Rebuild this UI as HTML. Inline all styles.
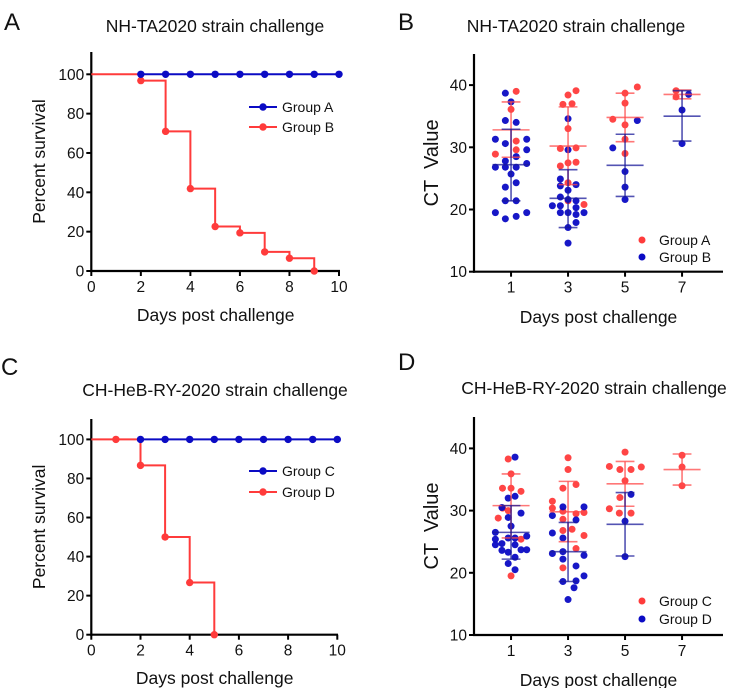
<!DOCTYPE html>
<html><head><meta charset="utf-8"><style>
html,body{margin:0;padding:0;background:#fff}
svg{display:block;font-family:"Liberation Sans",Arial,sans-serif}
text{white-space:pre}
</style></head><body>
<svg id="fig" width="733" height="688" viewBox="0 0 733 688" xmlns="http://www.w3.org/2000/svg"></svg>
<script>
// ---------- DATA ----------
const survDaysA=[2,3,4,5,6,7,8,9,10];
const survGroupA=[100,100,100,100,100,100,100,100,100];
const survDaysB=[2,3,4,5,6,7,8,9];
const survGroupB=[96.8,71,41.9,22.6,19.4,9.7,6.5,0];
const survDaysC=[2,3,4,5,6,7,8,9,10];
const survGroupC=[100,100,100,100,100,100,100,100,100];
const survDaysD=[1,2,3,4,5];
const survGroupD=[100,86.7,50,26.7,0];

const ctDayTicks=[1,3,5,7];
const ctValueTicks=[10,20,30,40];
const survXTicks=[0,2,4,6,8,10];
const survYTicks=[0,20,40,60,80,100];

const bRedDay=[1,1,1,1,1,3,3,3,3,3,3,3,3,3,3,3,3,3,5,5,5,5,5,5,5,7,7];
const bRedVal=[28.9,39.0,36.1,31.0,29.6,38.4,39.1,36.9,37.0,33.0,29.8,29.9,27.5,27.6,27.0,24.3,21.4,20.8,39.7,38.7,37.1,34.5,33.6,31.3,29.0,39.1,38.1];
const bRedJit=[-0.55,0.18,0,0.18,0.18,0,0.28,-0.18,0.14,0,-0.27,0.28,0,0.28,-0.27,0,0,0.56,0.43,0,0,-0.43,0,0,0,-0.21,-0.21];
const bBlueDay=[1,1,1,1,1,1,1,1,1,1,1,1,1,1,1,1,1,1,1,1,1,1,1,3,3,3,3,3,3,3,3,3,3,3,3,3,3,3,3,3,3,3,5,5,5,5,5,7,7,7];
const bBlueVal=[38.7,37.3,34.3,34.0,31.3,30.6,31.3,29.6,28.5,27.8,27.4,26.8,26.8,26.8,25.7,23.6,24.3,21.4,21.4,19.5,19.5,18.5,18.9,34.6,29.6,24.9,23.8,24.0,23.1,22.0,20.6,20.6,21.6,21.4,19.5,19.5,20.3,19.5,19.2,17.1,17.9,14.6,34.3,29.9,26.1,23.6,21.6,38.5,36.0,30.6];
const bBlueJit=[-0.2,0,-0.2,0.18,-0.55,-0.2,0.55,0.55,0.18,-0.2,0.55,-0.55,-0.2,0.18,0,-0.2,0.18,-0.2,0.18,-0.55,0.55,-0.2,0.18,0,0,-0.27,-0.27,0.28,0,-0.27,-0.55,-0.27,0,0.28,-0.27,0,0.28,0.56,0.28,0,0.28,0,0.43,-0.43,0,0,0,0.23,0,0];
const bRedStatDay=[1,3,5,7];
const bRedMean=[32.8,30.2,34.8,38.5];
const bRedLo=[28.4,24.0,30.9,37.8];
const bRedHi=[37.3,36.5,38.7,39.2];
const bBlueStatDay=[1,3,5,7];
const bBlueMean=[27.2,21.8,27.1,35.0];
const bBlueLo=[21.4,17.1,22.1,31.0];
const bBlueHi=[32.9,26.4,32.1,39.1];

const dRedDay=[1,1,1,1,1,1,1,1,1,1,3,3,3,3,3,3,3,3,3,3,3,3,3,3,3,5,5,5,5,5,5,5,5,5,5,7,7,7];
const dRedVal=[38.3,35.9,33.6,33.6,33.1,30.4,30.0,28.8,25.4,19.5,38.5,36.6,34.2,33.6,31.5,30.4,29.9,29.5,29.7,28.6,27.0,26.8,26.0,23.9,20.8,39.4,37.1,37.0,36.6,36.6,34.8,32.1,30.3,29.6,29.6,38.9,37.0,34.0];
const dRedJit=[-0.1,0,-0.3,0,0.35,-0.3,-0.1,-0.45,0.35,0,0,0,0.28,-0.18,-0.55,-0.55,-0.18,0.28,0.56,-0.18,0.14,-0.18,0.56,0.28,-0.18,0,-0.55,0.57,-0.18,0.21,0,-0.18,-0.55,-0.2,0.21,0,0,0];
const dBlueDay=[1,1,1,1,1,1,1,1,1,1,1,1,1,1,1,1,1,1,1,1,1,1,3,3,3,3,3,3,3,3,3,3,3,3,3,3,3,3,5,5,5];
const dBlueVal=[38.6,32.3,32.0,30.5,29.6,28.9,27.5,26.5,25.9,25.6,25.4,25.6,24.5,24.7,24.5,23.7,23.7,23.6,23.3,22.5,21.5,20.5,30.6,30.6,28.5,29.2,26.4,25.6,23.4,23.1,22.8,22.2,21.1,19.5,18.6,18.7,17.6,15.7,32.6,28.3,22.6];
const dBlueJit=[0.14,0.14,-0.1,-0.32,0.35,-0.1,0,-0.55,0.55,-0.1,-0.55,0.14,-0.55,-0.32,0.14,0.35,0.55,-0.32,-0.1,0.14,-0.1,0.14,-0.18,0.56,0.28,-0.55,-0.55,-0.18,-0.18,-0.55,0.56,-0.18,0.28,0.56,-0.18,0.28,0.21,0,0.21,0,0];
const dRedStatDay=[1,3,5,7];
const dRedMean=[30.8,29.8,34.3,36.6];
const dRedLo=[25.6,25.0,30.7,34.1];
const dRedHi=[35.9,34.7,37.9,39.1];
const dBlueStatDay=[1,3,5];
const dBlueMean=[26.5,23.4,27.8];
const dBlueLo=[22.2,18.6,22.7];
const dBlueHi=[30.8,28.1,32.9];

// ---------- DRAWING ----------
const NS='http://www.w3.org/2000/svg';
const svg=document.getElementById('fig');
const BLUE='#0b0bc4', RED='#ff3b3b';
function el(tag,attrs,parent,txt){const e=document.createElementNS(NS,tag);for(const k in attrs)e.setAttribute(k,attrs[k]);if(txt!==undefined)e.textContent=txt;(parent||svg).appendChild(e);return e;}
function grp(name){const g=el('g',{});


return g;}
function text(g,x,y,s,size,anchor,name,rot){const t=el('text',{x:x,y:y,'font-size':size,'text-anchor':anchor||'middle',fill:'#111'},g,s);


if(rot)t.setAttribute('transform','rotate(-90 '+x+' '+y+')');return t;}

function axes(g,x0,x1,yTop,yBot,xs,ys,xt,yt,xlab,ylab,ylabX,xlabY,ylabSize){
  el('line',{x1:x0,y1:yTop,x2:x0,y2:yBot+1,stroke:'#000','stroke-width':2.2},g);
  el('line',{x1:x0-1,y1:yBot,x2:x1,y2:yBot,stroke:'#000','stroke-width':2.2},g);
  xt.forEach(v=>{const x=xs(v);el('line',{x1:x,y1:yBot,x2:x,y2:yBot+5,stroke:'#000','stroke-width':2},g);
    text(g,x,yBot+21,String(v),15.5,'middle','x-tick-label');});
  yt.forEach(v=>{const y=ys(v);el('line',{x1:x0-5,y1:y,x2:x0,y2:y,stroke:'#000','stroke-width':2},g);
    text(g,x0-7,y+5.5,String(v),15.5,'end','y-tick-label');});
  text(g,(x0+x1)/2,xlabY,xlab,17.5,'middle','x-axis-title');
  text(g,ylabX,(yTop+yBot)/2,ylab,ylabSize||17.5,'middle','y-axis-title',true);
}

function survival(g,xs,ys,days,vals,color,startLine){
  let d='M'+xs(0)+' '+ys(100);let prev=100;
  if(!startLine){d='M'+xs(days[0])+' '+ys(vals[0]);prev=vals[0];}
  days.forEach((dd,i)=>{d+=' L'+xs(dd)+' '+ys(prev)+' L'+xs(dd)+' '+ys(vals[i]);prev=vals[i];});
  const p=el('path',{d:d,fill:'none',stroke:color,'stroke-width':2},g);
  
  
  days.forEach((dd,i)=>{const c=el('circle',{cx:xs(dd),cy:ys(vals[i]),r:3.7,fill:color},g);
    
    });
}

function legendLine(g,x,y,color,label){
  el('line',{x1:x-14,y1:y,x2:x+14,y2:y,stroke:color,'stroke-width':2},g);
  const c=el('circle',{cx:x,cy:y,r:3.7,fill:color},g);
  
  
  text(g,x+19,y+5,label,14,'start','legend-entry');
}
function legendDot(g,x,y,color,label){
  const c=el('circle',{cx:x,cy:y,r:3.5,fill:color},g);
  
  
  text(g,x+17,y+5,label,14,'start','legend-entry');
}

function scatter(g,xs,ys,days,vals,jit,color){
  days.forEach((d,i)=>{const c=el('circle',{cx:xs(d+jit[i]),cy:ys(vals[i]),r:3.5,fill:color,'fill-opacity':0.95},g);
    
    });
}
function stats(g,xs,ys,days,mean,lo,hi,color){
  days.forEach((d,i)=>{
    const s={stroke:color,'stroke-width':1.6,'stroke-opacity':0.75};
    const m=el('line',Object.assign({x1:xs(d-0.65),x2:xs(d+0.65),y1:ys(mean[i]),y2:ys(mean[i])},s),g);
    
    
    el('line',Object.assign({x1:xs(d),x2:xs(d),y1:ys(lo[i]),y2:ys(hi[i])},s),g);
    el('line',Object.assign({x1:xs(d-0.33),x2:xs(d+0.33),y1:ys(lo[i]),y2:ys(lo[i])},s),g);
    el('line',Object.assign({x1:xs(d-0.33),x2:xs(d+0.33),y1:ys(hi[i]),y2:ys(hi[i])},s),g);
  });
}

(function(){
  const g=grp('panel-a');
  const xs=d=>91.3+d*24.77, ys=p=>271-p*1.967;
  text(g,4,30,'A',24,'start','panel-letter');
  text(g,215,32,'NH-TA2020 strain challenge',17.5,'middle','chart-title');
  axes(g,91.3,340,52,271,xs,ys,survXTicks,survYTicks,'Days post challenge','Percent survival',45,321);
  survival(g,xs,ys,survDaysB,survGroupB,RED,true);
  survival(g,xs,ys,survDaysA,survGroupA,BLUE,false);
  legendLine(g,263,107,BLUE,'Group A');
  legendLine(g,263,127,RED,'Group B');
})();
(function(){
  const g=grp('panel-c');
  const xs=d=>91.3+d*24.6, ys=p=>634.7-p*1.953;
  text(g,1,375,'C',24,'start','panel-letter');
  text(g,215,396,'CH-HeB-RY-2020 strain challenge',17.5,'middle','chart-title');
  axes(g,91.3,338,419,634.7,xs,ys,survXTicks,survYTicks,'Days post challenge','Percent survival',45,684);
  survival(g,xs,ys,survDaysD,survGroupD,RED,true);
  survival(g,xs,ys,survDaysC,survGroupC,BLUE,false);
  legendLine(g,263,471,BLUE,'Group C');
  legendLine(g,263,492,RED,'Group D');
})();
(function(){
  const g=grp('panel-b');
  const xs=d=>474+(d+0.3)*28.5, ys=v=>271.7-(v-10)*6.22;
  text(g,398,30,'B',24,'start','panel-letter');
  text(g,576,32,'NH-TA2020 strain challenge',17.5,'middle','chart-title');
  axes(g,474,723,54,271.7,xs,ys,ctDayTicks,ctValueTicks,'Days post challenge','CT  Value',438,323,20);
  scatter(g,xs,ys,bRedDay,bRedVal,bRedJit,RED);
  scatter(g,xs,ys,bBlueDay,bBlueVal,bBlueJit,BLUE);
  stats(g,xs,ys,bRedStatDay,bRedMean,bRedLo,bRedHi,'#ff4a4a');
  stats(g,xs,ys,bBlueStatDay,bBlueMean,bBlueLo,bBlueHi,'#1a1a9a');
  legendDot(g,642,240,RED,'Group A');
  legendDot(g,642,257,BLUE,'Group B');
})();
(function(){
  const g=grp('panel-d');
  const xs=d=>474+(d+0.3)*28.5, ys=v=>635-(v-10)*6.22;
  text(g,398,370,'D',24,'start','panel-letter');
  text(g,594,394,'CH-HeB-RY-2020 strain challenge',17.5,'middle','chart-title');
  axes(g,474,723,417,635,xs,ys,ctDayTicks,ctValueTicks,'Days post challenge','CT  Value',438,686,20);
  scatter(g,xs,ys,dRedDay,dRedVal,dRedJit,RED);
  scatter(g,xs,ys,dBlueDay,dBlueVal,dBlueJit,BLUE);
  stats(g,xs,ys,dRedStatDay,dRedMean,dRedLo,dRedHi,'#ff4a4a');
  stats(g,xs,ys,dBlueStatDay,dBlueMean,dBlueLo,dBlueHi,'#1a1a9a');
  legendDot(g,642,601,RED,'Group C');
  legendDot(g,642,619,BLUE,'Group D');
})();
</script>
</body></html>
